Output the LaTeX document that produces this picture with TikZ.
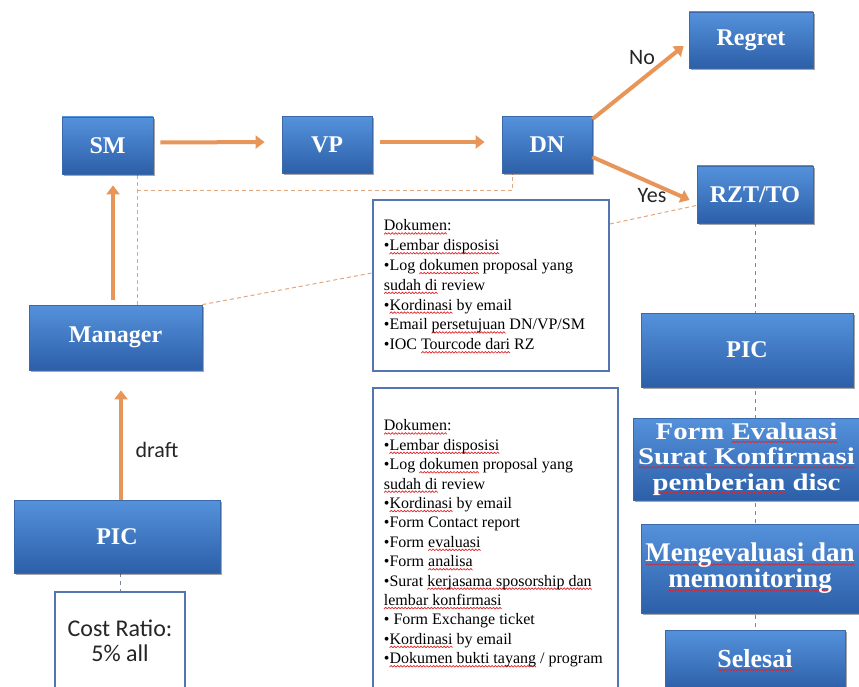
\documentclass[tikz,border=0pt]{standalone}
\usepackage{fontspec}
\setmainfont{Liberation Serif}
\newfontfamily\calfont{Carlito}
\newfontfamily\wideserif{Liberation Serif}[FakeStretch=1.2]
\usetikzlibrary{arrows.meta,shadows,calc}
\pgfdeclarelayer{bg}
\pgfsetlayers{bg,main}
\definecolor{boxtop}{HTML}{5592DC}
\definecolor{boxbot}{HTML}{2C5FA8}
\definecolor{boxline}{HTML}{3A68A8}
\definecolor{flow}{HTML}{E8955A}
\definecolor{linkdash}{HTML}{E3A67C}
\definecolor{greydash}{HTML}{7E8794}
\definecolor{docline}{HTML}{5474B4}
\definecolor{squig}{HTML}{E0262A}
% red wavy spell-check underline, built from one repeated zigzag tile
\newsavebox\wavetile
\newcommand\sq[1]{\leavevmode\setbox0\hbox{#1}\rlap{\lower3.4pt\hbox to\wd0{\xleaders\copy\wavetile\hfill}}\box0\relax}
\tikzset{
  bluebox/.style={draw=boxline, line width=0.8pt, top color=boxtop, bottom color=boxbot,
    text=white, font=\bfseries\fontsize{24}{26}\selectfont, align=center, inner sep=0pt,
    drop shadow={shadow xshift=1.5pt, shadow yshift=-2pt, opacity=0.35, fill=black}},
  flowarrow/.style={draw=flow, line width=4pt, -{Triangle[width=13pt,length=9pt]}},
  linkline/.style={draw=linkdash, line width=1pt, dash pattern=on 4pt off 3pt},
  greyline/.style={draw=greydash, line width=0.9pt, dash pattern=on 4pt off 4pt},
  docbox/.style={draw=docline, line width=1.8pt, fill=white, inner xsep=11pt, inner ysep=0pt, anchor=north west},
  lbl/.style={font=\calfont\fontsize{22}{24}\selectfont, text=black!85}
}
\begin{document}
\sbox\wavetile{\begin{pgfpicture}
  \pgfsetcolor{squig}\pgfsetlinewidth{0.7pt}
  \pgfpathmoveto{\pgfpoint{0pt}{0pt}}
  \pgfpathlineto{\pgfpoint{1.6pt}{1.6pt}}
  \pgfpathlineto{\pgfpoint{3.2pt}{0pt}}
  \pgfusepath{stroke}
  \pgfresetboundingbox
  \pgfpathrectangle{\pgfpointorigin}{\pgfpoint{3.2pt}{1.6pt}}
  \pgfusepath{use as bounding box}
\end{pgfpicture}}
\begin{tikzpicture}[x=1pt, y=-1pt]
\useasboundingbox (0,0) rectangle (859,687);
\clip (0,0) rectangle (859,687);

% approval chain
\node[bluebox, minimum width=91pt, minimum height=57pt] (sm) at (107.5,145.5) {SM};
\node[bluebox, minimum width=90pt, minimum height=57pt] (vp) at (327,145) {VP};
\node[bluebox, minimum width=90pt, minimum height=57pt] (dn) at (547,145) {DN};
\node[bluebox, minimum width=124pt, minimum height=56pt] (regret) at (751,40) {Regret};
\node[bluebox, minimum width=116pt, minimum height=57pt] (rzt) at (755,194.5) {RZT/TO};
\node[bluebox, minimum width=173pt, minimum height=65pt] (mgr) at (115.5,337.5) {Manager};
\node[bluebox, minimum width=206pt, minimum height=73pt] (picL) at (117,536.5) {PIC};

% follow-up column
\node[bluebox, minimum width=212pt, minimum height=74pt] (picR) at (747,350) {PIC};
\node[bluebox, minimum width=227pt, minimum height=82pt, font=\wideserif\bfseries\fontsize{24}{25.5}\selectfont] (form) at (746.5,459)
  {Form \sq{Evaluasi}\\ \sq{Surat Konfirmasi}\\ \sq{pemberian} disc};
\node[bluebox, minimum width=218pt, minimum height=89pt, font=\bfseries\fontsize{27}{26}\selectfont] (meng) at (750,568.5)
  {\sq{Mengevaluasi dan}\\ \sq{memonitoring}};
\node[bluebox, minimum width=180pt, minimum height=60pt, font=\bfseries\fontsize{26}{28}\selectfont] (selesai) at (755,660) {\sq{Selesai}};

% document lists
\node[docbox] (docA) at (372,199) {\parbox[c][171pt][t]{214pt}{\fontsize{16}{19.8}\selectfont\raggedright
  \vspace*{19pt}\rule{0pt}{12pt}\sq{Dokumen}:\\
  •\sq{Lembar disposisi}\\
  •Log \sq{dokumen} proposal yang\\
  \sq{sudah di} review\\
  •\sq{Kordinasi} by email\\
  •Email \sq{persetujuan} DN/VP/SM\\
  •IOC \sq{Tourcode dari} RZ}};
\node[docbox] (docB) at (372,387) {\parbox[c][320pt][t]{223pt}{\fontsize{16}{19.4}\selectfont\raggedright
  \vspace*{31pt}\rule{0pt}{12pt}\sq{Dokumen}:\\
  •\sq{Lembar disposisi}\\
  •Log \sq{dokumen} proposal yang\\
  \sq{sudah di} review\\
  •\sq{Kordinasi} by email\\
  •Form Contact report\\
  •Form \sq{evaluasi}\\
  •Form \sq{analisa}\\
  •Surat \sq{kerjasama sposorship dan}\\
  \sq{lembar konfirmasi}\\
  • Form Exchange ticket\\
  •\sq{Kordinasi} by email\\
  •\sq{Dokumen bukti tayang} / program}};

% cost ratio note
\node[draw=docline, line width=1.8pt, fill=white, minimum width=130pt, minimum height=110pt, anchor=north] (cost) at (120,591) {};
\node[lbl, font=\calfont\fontsize{24}{25}\selectfont, align=center] (costtxt) at (120,641) {Cost Ratio:\\5\% all};

% labels
\node[lbl] (no) at (642,58) {No};
\node[lbl] (yes) at (652,196) {Yes};
\node[lbl] (draft) at (157,450) {draft};

% dashed links behind the boxes
\begin{pgfonlayer}{bg}
\coordinate (jl) at (137,191);
\coordinate (jr) at (512,191);
\draw[linkline] (mgr.north -| jl) -- (sm.south -| jl);
\draw[linkline] (jl) -- (jr) -- (dn.south -| jr);
\draw[linkline] (mgr.north east) -- ($(docA.north west)+(0,74)$);
\draw[linkline] ($(docA.north east)+(0,25)$) -- ($(rzt.south west)+(0,-18)$);
\draw[greyline] (rzt.south) -- (rzt.south |- selesai.north);
\draw[greyline] (cost.north |- picL.south) -- (cost.north);
\end{pgfonlayer}

% flow arrows
\draw[flowarrow, shorten <=7pt, shorten >=17pt] ([yshift=3pt]sm.east) -- ([yshift=3pt]vp.west);
\draw[flowarrow, shorten <=8pt, shorten >=17pt] ([yshift=3pt]vp.east) -- ([yshift=3pt]dn.west);
\draw[flowarrow] ([yshift=-3pt]dn.north east) -- ([xshift=-5pt,yshift=-6pt]regret.west);
\draw[flowarrow] ([yshift=-12pt]dn.east) -- ([xshift=-7pt,yshift=-5.5pt]rzt.west);
\draw[flowarrow] ([xshift=-2.5pt,yshift=5pt]mgr.north) -- ([xshift=5.5pt,yshift=-11pt]sm.south);
\draw[flowarrow] ([xshift=4pt]picL.north) -- ([xshift=5.5pt,yshift=-20pt]mgr.south);
\end{tikzpicture}
\end{document}
